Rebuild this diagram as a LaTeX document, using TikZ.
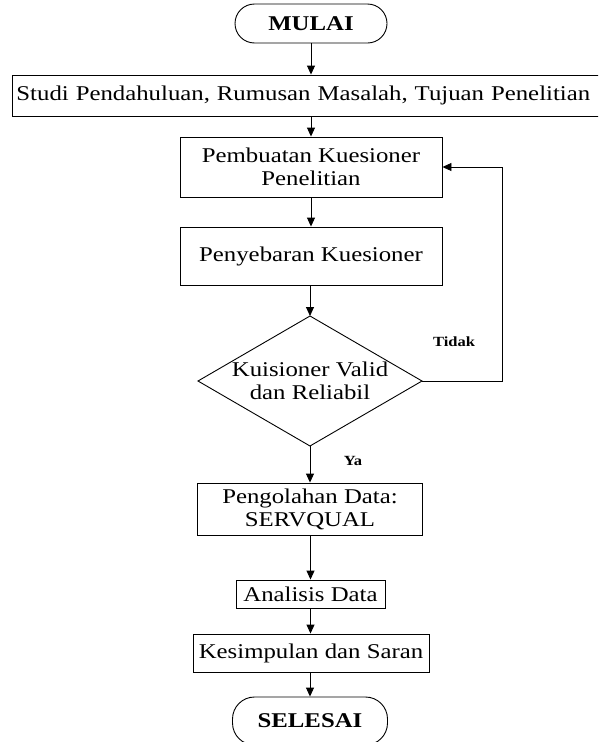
\documentclass[tikz,border=0pt]{standalone}
\usepackage{fontspec}
\setmainfont[FakeStretch=1.18]{Liberation Serif}
\usetikzlibrary{arrows.meta}
\begin{document}
\begin{tikzpicture}[x=1pt,y=-1pt,
  base/.style={font=\fontsize{21}{23}\selectfont, line width=0.9pt, align=center, inner sep=0pt},
  box/.style={base, draw, rectangle},
  term/.style={base, draw, rectangle, font=\fontsize{21}{23}\selectfont\bfseries},
  lbl/.style={font=\fontsize{14}{16}\selectfont\bfseries, inner sep=0pt},
  arr/.style={line width=0.9pt, -{Triangle[length=9pt,width=8pt]}},
  ln/.style={line width=0.9pt}]
\clip (0,0) rectangle (598,742);
\node[term, rounded corners=19.5pt, minimum width=152pt, minimum height=39pt] (mulai) at (311,23.5) {MULAI};
\node[box, anchor=west, text width=588pt, inner xsep=4pt, align=left, minimum height=41pt] (studi) at (12,95.5) {Studi Pendahuluan, Rumusan Masalah, Tujuan Penelitian};
\node[box, minimum width=262pt, minimum height=60pt] (buat) at (311,167) {Pembuatan Kuesioner\\Penelitian};
\node[box, minimum width=262pt, minimum height=58pt] (sebar) at (311,256) {Penyebaran Kuesioner};
\coordinate (dtop) at (310,316);
\coordinate (dright) at (422,381);
\coordinate (dbot) at (310,446);
\coordinate (dleft) at (198,381);
\coordinate (corner) at (502,381);
\draw[ln] (dtop) -- (dright) -- (dbot) -- (dleft) -- cycle;
\node[base] (valid) at (310,381) {Kuisioner Valid\\dan Reliabil};
\node[lbl] (tidak) at (454,342) {Tidak};
\node[lbl] (ya) at (353,461) {Ya};
\node[box, minimum width=225pt, minimum height=52pt] (olah) at (310,509) {Pengolahan Data:\\SERVQUAL};
\node[box, minimum width=149pt, minimum height=28pt] (analisis) at (310.5,594) {Analisis Data};
\node[box, minimum width=236pt, minimum height=38pt] (simpul) at (311,653) {Kesimpulan dan Saran};
\node[term, rounded corners=22pt, minimum width=155pt, minimum height=48pt] (selesai) at (310,721) {SELESAI};
\draw[arr] (mulai.south) -- (mulai.south |- studi.north);
\draw[arr] (mulai.south |- studi.south) -- (buat.north);
\draw[arr] (buat.south) -- (sebar.north);
\draw[arr] (sebar.south -| dtop) -- (dtop);
\draw[arr] (dbot) -- (dbot |- olah.north);
\draw[arr] (dright) -- (corner) |- (buat.east);
\draw[arr] (olah.south -| analisis.north) -- (analisis.north);
\draw[arr] (analisis.south) -- (analisis.south |- simpul.north);
\draw[arr] (simpul.south -| selesai.north) -- (selesai.north);
\end{tikzpicture}
\end{document}
